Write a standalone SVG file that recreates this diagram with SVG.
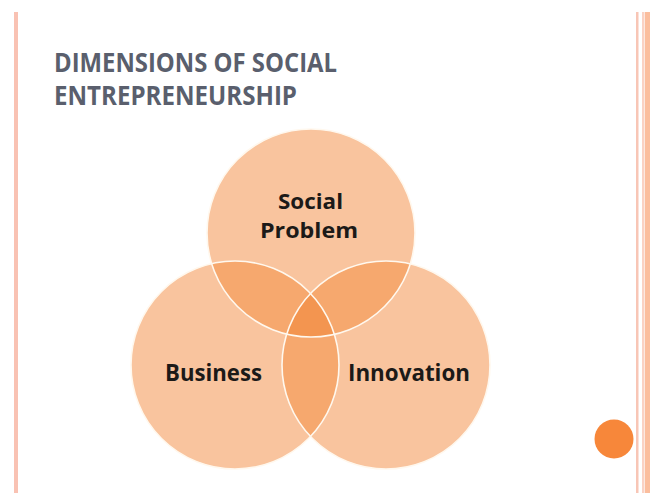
<svg xmlns="http://www.w3.org/2000/svg" width="651" height="493" viewBox="0 0 651 493">
  <style>
    .title { font-family: "Open Sans", "Liberation Sans", sans-serif; font-weight: 700; font-size: 26.5px; fill: #5A5F6D; }
    .label { font-family: "Open Sans", "Liberation Sans", sans-serif; font-weight: 700; font-size: 23px; fill: #1C1A18; text-anchor: middle; }
    .label.small { font-size: 21px; }
    .disc { fill: #F9C49E; }
    .pair { fill: #F6A86E; }
    .core { fill: #F39550; }
    .rim { fill: none; stroke: #FFF8EE; stroke-width: 1.6; }
  </style>
  <defs>
    <circle id="cTop" cx="311" cy="233" r="104"/>
    <circle id="cLeft" cx="235" cy="365" r="104"/>
    <circle id="cRight" cx="386" cy="365" r="104"/>
    <clipPath id="clipTop"><use href="#cTop"/></clipPath>
    <clipPath id="clipLeft"><use href="#cLeft"/></clipPath>
    <clipPath id="clipRight"><use href="#cRight"/></clipPath>
  </defs>

  <rect width="651" height="493" fill="#FFFFFF"/>

  <!-- slide border lines -->
  <g id="frame">
    <rect x="14" y="12" width="4" height="481" fill="#F9C2B3"/>
    <rect x="636" y="12" width="2.5" height="481" fill="#F8C6B6"/>
    <rect x="642" y="12" width="2.5" height="481" fill="#FAD2C4"/>
    <rect x="645" y="12" width="5" height="481" fill="#FBBE9E"/>
  </g>

  <g id="title">
    <text class="title" x="54" y="72" textLength="283" lengthAdjust="spacingAndGlyphs">DIMENSIONS OF SOCIAL</text>
    <text class="title" x="54" y="105" textLength="243" lengthAdjust="spacingAndGlyphs">ENTREPRENEURSHIP</text>
  </g>

  <!-- three overlapping discs -->
  <g id="node-social-problem">
    <use href="#cTop" class="disc"/>
  </g>
  <g id="node-business">
    <use href="#cLeft" class="disc"/>
  </g>
  <g id="node-innovation">
    <use href="#cRight" class="disc"/>
  </g>

  <!-- overlap shading -->
  <g id="overlaps">
    <g clip-path="url(#clipTop)"><use href="#cLeft" class="pair"/></g>
    <g clip-path="url(#clipTop)"><use href="#cRight" class="pair"/></g>
    <g clip-path="url(#clipLeft)"><use href="#cRight" class="pair"/></g>
    <g clip-path="url(#clipTop)"><g clip-path="url(#clipLeft)"><use href="#cRight" class="core"/></g></g>
  </g>

  <g id="rims">
    <use href="#cTop" class="rim"/>
    <use href="#cLeft" class="rim"/>
    <use href="#cRight" class="rim"/>
  </g>

  <g id="labels">
    <text class="label small" x="310.5" y="208.5" textLength="65" lengthAdjust="spacingAndGlyphs">Social</text>
    <text class="label small" x="309" y="237.5" textLength="98" lengthAdjust="spacingAndGlyphs">Problem</text>
    <text class="label" x="213.5" y="381" textLength="97" lengthAdjust="spacingAndGlyphs">Business</text>
    <text class="label" x="409" y="381" textLength="122" lengthAdjust="spacingAndGlyphs">Innovation</text>
  </g>

  <g id="bullet">
    <circle cx="614" cy="439" r="19.5" fill="#F7873A"/>
  </g>
</svg>
